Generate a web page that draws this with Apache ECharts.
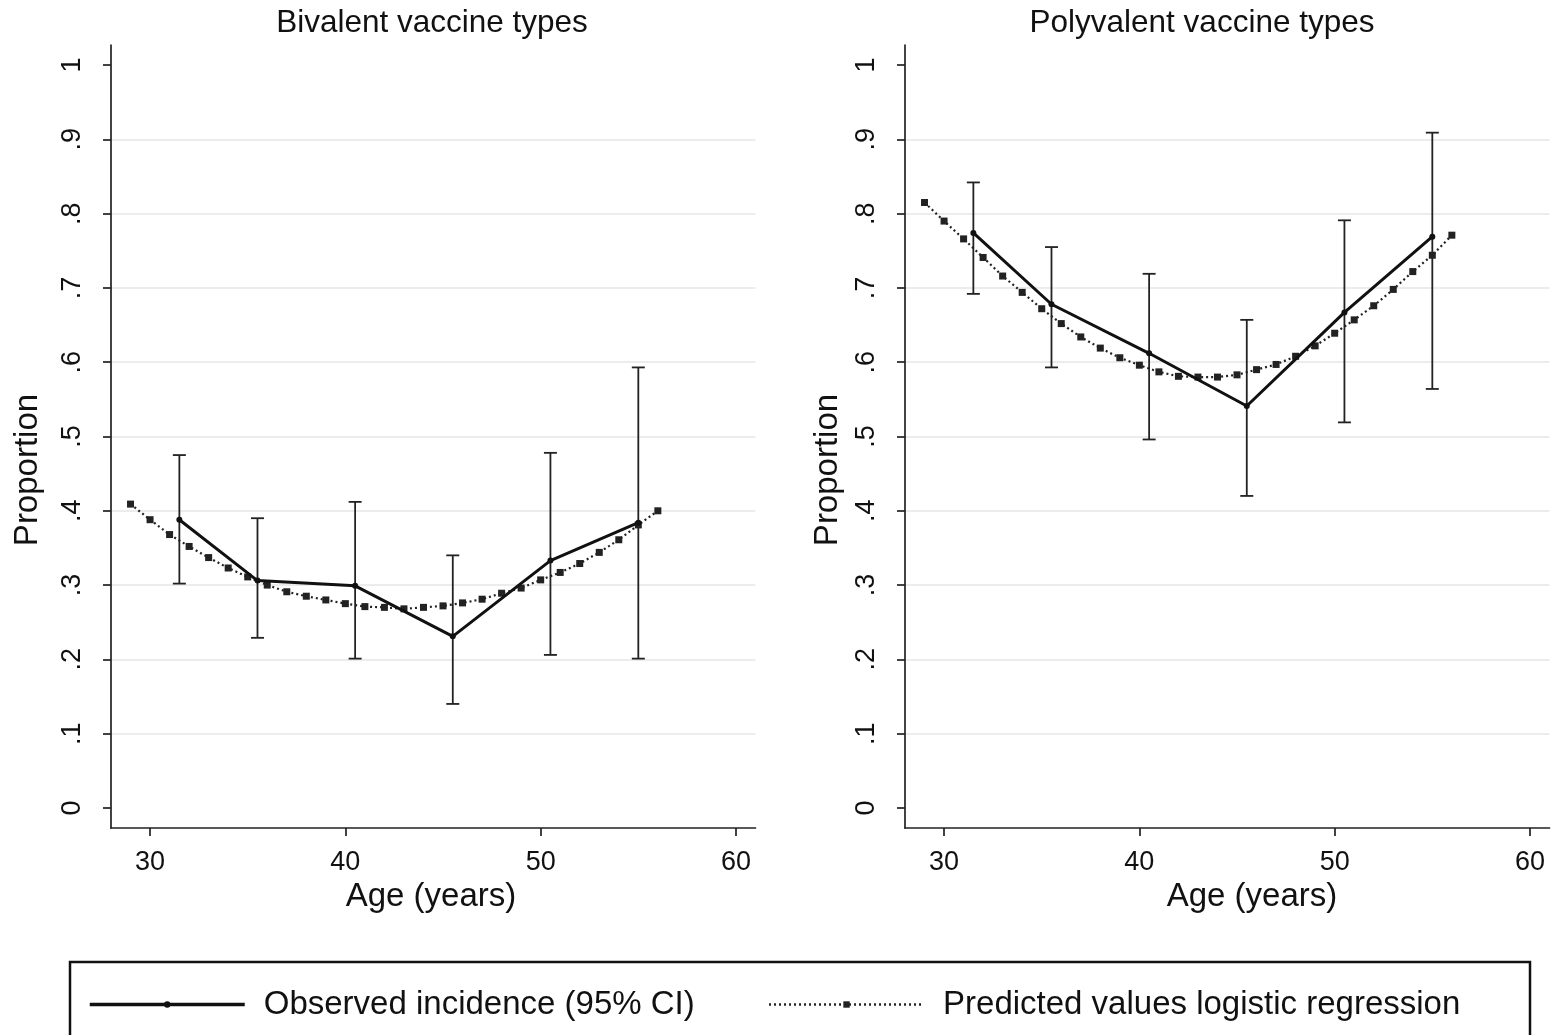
<!DOCTYPE html>
<html><head><meta charset="utf-8">
<script src="https://cdn.jsdelivr.net/npm/echarts@6.0.0/dist/echarts.min.js"></script>
<style>html,body{margin:0;padding:0;background:#fff}#c{width:1551px;height:1035px}</style>
</head><body><div id="c"></div>
<script>
// ---- data ----
const panelTitles = ['Bivalent vaccine types', 'Polyvalent vaccine types'];
const xAxisTitle = 'Age (years)';
const yAxisTitle = 'Proportion';
const legendNames = ['Observed incidence (95% CI)', 'Predicted values logistic regression'];

const ageGroups = [31.5, 35.5, 40.5, 45.5, 50.5, 55];
const biObserved = [0.388, 0.306, 0.299, 0.231, 0.333, 0.384];
const biLower    = [0.302, 0.229, 0.201, 0.140, 0.206, 0.201];
const biUpper    = [0.475, 0.390, 0.412, 0.340, 0.478, 0.593];
const polyObserved = [0.774, 0.678, 0.612, 0.541, 0.667, 0.769];
const polyLower    = [0.692, 0.593, 0.496, 0.420, 0.519, 0.564];
const polyUpper    = [0.842, 0.755, 0.719, 0.657, 0.791, 0.909];

const predAges = [29,30,31,32,33,34,35,36,37,38,39,40,41,42,43,44,45,46,47,48,49,50,51,52,53,54,55,56];
const biPredicted = [0.409,0.388,0.368,0.352,0.337,0.323,0.311,0.300,0.291,0.285,0.280,0.275,0.271,0.270,
                     0.268,0.270,0.272,0.276,0.281,0.289,0.296,0.307,0.317,0.329,0.344,0.361,0.381,0.400];
const polyPredicted = [0.815,0.790,0.766,0.741,0.716,0.694,0.672,0.652,0.634,0.619,0.606,0.596,0.587,0.581,
                       0.580,0.580,0.583,0.590,0.597,0.608,0.622,0.639,0.657,0.676,0.698,0.722,0.744,0.771];

const xTicks = [30, 40, 50, 60];
const yTicks = [0, 0.1, 0.2, 0.3, 0.4, 0.5, 0.6, 0.7, 0.8, 0.9, 1];
const yTickLabels = ['0', '.1', '.2', '.3', '.4', '.5', '.6', '.7', '.8', '.9', '1'];

// ---- chart ----
const FONT = '"Liberation Sans", Arial, sans-serif';
const INK = '#111';
const chart = echarts.init(document.getElementById('c'), null, {renderer: 'canvas'});

const gridLefts = [111, 905];
function makeX(i) {
  return {
    type: 'value', gridIndex: i, min: 28, max: 61,
    axisLine: {show: true, onZero: false, lineStyle: {color: '#222', width: 1.7}},
    axisTick: {show: true, customValues: xTicks, length: 8, lineStyle: {color: '#222', width: 1.7}},
    axisLabel: {customValues: xTicks, fontSize: 27, fontFamily: FONT, color: INK, margin: 21},
    splitLine: {show: false}
  };
}
function makeY(i) {
  return {
    type: 'value', gridIndex: i, min: -0.027, max: 1.027, splitNumber: 10, minInterval: 0.1, maxInterval: 0.1,
    axisLine: {show: true, onZero: false, lineStyle: {color: '#222', width: 1.7}},
    axisTick: {show: true, customValues: yTicks, length: 8, lineStyle: {color: '#222', width: 1.7}},
    axisLabel: {
      customValues: yTicks, rotate: 90, fontSize: 27, fontFamily: FONT, color: INK, margin: 25,
      formatter: v => { const k = yTicks.findIndex(t => Math.abs(t - v) < 1e-9); return k >= 0 ? yTickLabels[k] : ''; }
    },
    splitLine: {show: true, showMinLine: false, showMaxLine: false, lineStyle: {color: '#e6e6e6', width: 1.5}}
  };
}
function errSeries(i, lo, hi) {
  return {
    type: 'custom', xAxisIndex: i, yAxisIndex: i, silent: true, z: 3,
    data: ageGroups.map((a, k) => [a, lo[k], hi[k]]),
    encode: {x: 0, y: [1, 2]},
    renderItem(params, api) {
      const x = api.value(0);
      const p1 = api.coord([x, api.value(1)]);
      const p2 = api.coord([x, api.value(2)]);
      const w = 6.5, st = {stroke: '#222', lineWidth: 1.8};
      return {type: 'group', children: [
        {type: 'line', shape: {x1: p1[0], y1: p1[1], x2: p2[0], y2: p2[1]}, style: st},
        {type: 'line', shape: {x1: p1[0] - w, y1: p1[1], x2: p1[0] + w, y2: p1[1]}, style: st},
        {type: 'line', shape: {x1: p2[0] - w, y1: p2[1], x2: p2[0] + w, y2: p2[1]}, style: st}
      ]};
    }
  };
}
function obsSeries(i, vals) {
  return {
    type: 'line', name: legendNames[0], xAxisIndex: i, yAxisIndex: i, z: 5,
    data: ageGroups.map((a, k) => [a, vals[k]]),
    symbol: 'circle', symbolSize: 6, showSymbol: true,
    lineStyle: {color: INK, width: 3}, itemStyle: {color: INK}
  };
}
function predSeries(i, vals) {
  return {
    type: 'line', name: legendNames[1], xAxisIndex: i, yAxisIndex: i, z: 4,
    data: predAges.map((a, k) => [a, vals[k]]),
    symbol: 'rect', symbolSize: 7, showSymbol: true,
    lineStyle: {color: '#222', width: 2.2, type: [2, 3]}, itemStyle: {color: '#222'}
  };
}
function txt(x, y, s, size, rot) {
  return {type: 'text', x: x, y: y, rotation: rot || 0, silent: true,
    style: {text: s, font: size + 'px ' + FONT, fill: INK, align: 'center', verticalAlign: 'middle'}};
}

chart.setOption({
  animation: false,
  backgroundColor: '#fff',
  grid: gridLefts.map(l => ({left: l, width: 644.5, top: 45, height: 783})),
  xAxis: [makeX(0), makeX(1)],
  yAxis: [makeY(0), makeY(1)],
  legend: {
    data: [
      {name: legendNames[0], lineStyle: {width: 3.5}},
      {name: legendNames[1], lineStyle: {width: 2.5}}
    ],
    left: 83, top: 983, itemWidth: 155, itemHeight: 8, itemGap: 73,
    textStyle: {fontSize: 33, fontFamily: FONT, color: INK, padding: [0, 0, 0, 14]}
  },
  graphic: [
    txt(432, 23, panelTitles[0], 31.5),
    txt(1202, 23, panelTitles[1], 31.5),
    txt(431, 897, xAxisTitle, 33),
    txt(1252, 897, xAxisTitle, 33),
    txt(28, 470, yAxisTitle, 33, Math.PI / 2),
    txt(828, 470, yAxisTitle, 33, Math.PI / 2),
    {type: 'rect', silent: true, shape: {x: 70, y: 962, width: 1460, height: 100},
      style: {fill: 'none', stroke: '#111', lineWidth: 2.5}}
  ],
  series: [
    errSeries(0, biLower, biUpper), obsSeries(0, biObserved), predSeries(0, biPredicted),
    errSeries(1, polyLower, polyUpper), obsSeries(1, polyObserved), predSeries(1, polyPredicted)
  ]
});
</script></body></html>
